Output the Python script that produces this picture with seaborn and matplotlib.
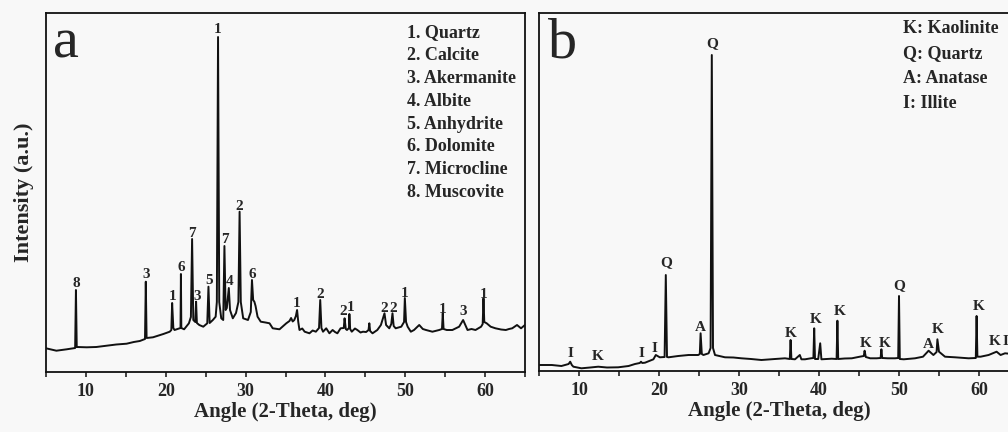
import matplotlib
matplotlib.use("Agg")
import matplotlib.pyplot as plt
import pandas as pd
import seaborn as sns

sns.set_style("ticks")
plt.rcParams["font.family"] = ["Liberation Serif", "DejaVu Serif"]
plt.rcParams["font.weight"] = "bold"

# ---- panel a: raw sample pattern (2-theta, intensity a.u.) ----
a_angle = [5.0, 6.3, 7.6, 8.6, 8.65, 8.75, 8.85, 10.1, 11.3, 12.6, 13.8, 15.1, 16.0, 16.75,
           17.4, 17.5, 17.6, 18.4, 19.1, 19.7, 20.5, 20.7, 20.8, 20.95, 21.1, 21.75, 21.85,
           21.9, 21.95, 22.3, 22.9, 23.15, 23.3, 23.45, 23.7, 23.8, 23.9, 24.2, 24.7, 25.2,
           25.35, 25.5, 25.9, 26.25, 26.4, 26.55, 26.7, 26.95, 27.2, 27.35, 27.5, 27.65, 27.9,
           28.05, 28.4, 28.8, 29.1, 29.25, 29.4, 29.7, 30.3, 30.65, 30.8, 30.95, 31.1, 31.25,
           31.5, 31.9, 32.5, 33.0, 33.4, 34.25, 35.1, 35.5, 35.7, 35.9, 36.1, 36.3, 36.45, 36.6,
           36.75, 37.1, 37.4, 38.0, 38.4, 38.8, 39.2, 39.35, 39.5, 39.7, 40.1, 40.5, 40.9, 41.2,
           41.5, 41.9, 42.3, 42.4, 42.55, 42.7, 42.95, 43.0, 43.1, 43.3, 43.7, 44.0, 44.4, 44.7,
           45.1, 45.4, 45.5, 45.6, 45.9, 46.5, 46.95, 47.4, 47.6, 48.0, 48.25, 48.4, 48.55,
           48.8, 49.5, 49.85, 49.95, 50.1, 50.3, 50.7, 51.1, 51.75, 52.2, 52.6, 53.4, 54.25,
           54.6, 54.7, 54.8, 55.2, 55.9, 56.3, 56.75, 57.25, 57.8, 58.3, 58.8, 59.5, 59.7,
           59.8, 59.9, 60.2, 60.7, 61.3, 62.0, 62.6, 63.0, 63.4, 64.0, 64.5, 65.0]
a_intensity = [23.7, 21.3, 22.7, 24.0, 24.0, 82.0, 25.0, 24.7, 25.0, 26.3, 27.5, 28.3, 30.0, 31.0,
               33.0, 90.3, 34.0, 34.7, 36.5, 38.0, 40.3, 42.0, 69.0, 44.0, 42.0, 43.7, 44.0,
               98.0, 44.0, 42.7, 48.7, 55.0, 133.0, 52.0, 50.0, 70.3, 49.0, 47.0, 45.3, 48.7,
               85.3, 49.0, 52.0, 55.3, 70.0, 335.0, 70.0, 53.7, 52.0, 126.0, 62.0, 64.0, 84.0,
               62.0, 53.7, 59.0, 70.0, 160.3, 70.0, 53.7, 52.0, 60.0, 92.0, 72.0, 70.3, 66.0,
               55.3, 50.3, 49.5, 48.7, 43.7, 42.7, 48.7, 51.0, 54.0, 50.5, 52.0, 56.0, 62.0, 50.0,
               42.0, 43.5, 40.3, 38.7, 41.5, 40.3, 44.0, 72.0, 44.0, 40.3, 43.7, 38.7, 42.0, 40.0,
               38.7, 43.7, 44.0, 53.7, 43.0, 42.0, 44.0, 58.0, 43.0, 40.3, 43.5, 42.0, 39.5, 40.3,
               40.0, 42.0, 48.7, 41.0, 38.7, 42.0, 47.0, 58.7, 47.0, 43.7, 48.0, 58.7, 46.0,
               43.7, 45.3, 50.0, 74.0, 50.0, 45.3, 40.3, 42.0, 47.0, 43.0, 42.0, 40.3, 42.0,
               43.0, 58.7, 43.0, 42.0, 42.0, 43.5, 45.3, 52.0, 42.0, 43.0, 42.0, 45.3, 48.0,
               73.7, 50.0, 48.7, 45.3, 43.7, 42.5, 42.0, 43.0, 43.7, 47.0, 43.7, 47.0]

a_label_angle = [8.75, 17.5, 20.8, 21.9, 23.3, 24.0, 25.4, 26.55, 27.4, 28.0, 29.25, 30.8,
                 36.45, 39.35, 42.2, 43.1, 47.4, 48.5, 49.95, 54.7, 57.3, 59.8]
a_label_y = [85, 94, 72, 101, 135, 72, 88, 339, 129, 87, 162, 94,
             65, 74, 57, 61, 60, 60, 75, 59, 57, 74]
a_label_text = ["8", "3", "1", "6", "7", "3", "5", "1", "7", "4", "2", "6",
                "1", "2", "2", "1", "2", "2", "1", "1", "3", "1"]
a_phases = ["1. Quartz", "2. Calcite", "3. Akermanite", "4. Albite",
            "5. Anhydrite", "6. Dolomite", "7. Microcline", "8. Muscovite"]

# ---- panel b: treated sample pattern ----
b_angle = [5.1, 6.6, 7.8, 8.7, 8.9, 9.1, 9.3, 10.3, 11.4, 12.4, 13.5, 14.9, 16.2, 17.0, 17.6,
           17.75, 17.9, 18.25, 19.3, 19.6, 20.1, 20.7, 20.85, 21.0, 21.2, 22.4, 23.7, 24.9,
           25.1, 25.2, 25.35, 25.55, 26.2, 26.45, 26.6, 26.75, 27.0, 28.25, 29.3, 30.3, 31.5,
           32.8, 34.5, 35.75, 36.35, 36.45, 36.55, 37.0, 37.6, 37.8, 38.25, 39.0, 39.3, 39.4,
           39.5, 39.9, 40.15, 40.3, 41.6, 42.2, 42.3, 42.4, 43.2, 44.1, 45.1, 45.6, 45.7,
           45.85, 46.4, 47.2, 47.7, 47.8, 47.9, 48.6, 49.5, 49.9, 50.0, 50.1, 50.6, 52.0,
           53.0, 53.7, 54.3, 54.7, 54.8, 55.0, 55.75, 57.0, 58.7, 59.6, 59.7, 59.8, 60.2,
           61.2, 62.2, 62.7, 63.25, 64.2, 65.0]
b_intensity = [7.0, 7.0, 6.0, 8.0, 10.3, 7.0, 5.3, 3.7, 4.5, 5.3, 4.5, 4.7, 6.0, 8.0, 9.0,
               10.3, 9.0, 9.3, 12.7, 17.0, 14.7, 15.0, 97.0, 15.0, 14.7, 16.0, 17.0, 17.0,
               18.0, 38.7, 18.0, 17.0, 18.7, 24.0, 317.0, 24.0, 17.0, 14.7, 14.5, 13.7, 13.0,
               12.0, 13.0, 13.7, 13.0, 32.0, 13.0, 12.7, 17.0, 12.7, 12.7, 13.7, 14.0, 43.7,
               13.0, 13.0, 28.7, 12.7, 13.3, 13.0, 51.3, 13.0, 13.5, 13.7, 15.3, 16.0, 21.3,
               15.0, 13.7, 13.7, 14.0, 22.7, 14.0, 13.7, 13.7, 14.0, 76.0, 13.0, 12.7, 13.7,
               15.3, 21.3, 17.0, 20.0, 32.7, 20.3, 15.3, 14.7, 13.7, 14.0, 56.0, 15.3, 15.3,
               17.0, 20.3, 17.0, 18.7, 18.0, 18.5]

b_label_angle = [8.9, 12.4, 17.75, 19.45, 20.85, 25.2, 26.6, 36.5, 39.6, 42.6, 45.8, 48.2,
                 50.0, 53.7, 54.9, 60.0, 62.0, 63.25]
b_label_y = [15, 12, 15, 20, 106, 41, 325, 35, 49, 57, 25, 25, 83, 24, 39, 62, 27, 27]
b_label_text = ["I", "K", "I", "I", "Q", "A", "Q", "K", "K", "K", "K", "K",
                "Q", "A", "K", "K", "K", "I"]
b_phases = ["K: Kaolinite", "Q: Quartz", "A: Anatase", "I: Illite"]

BG = "#f8f8f8"
fig = plt.figure(figsize=(10.08, 4.32), dpi=100, facecolor=BG)
ax_a = fig.add_axes([46 / 1008, 60 / 432, 479 / 1008, 359 / 432], facecolor=BG)
ax_b = fig.add_axes([539 / 1008, 61 / 432, 480 / 1008, 358 / 432], facecolor=BG)


def draw_panel(ax, angle, intensity, lab_x, lab_y, lab_t, phases, letter,
               ylim, legend_y0, legend_step, legend_x, letter_x):
    df = pd.DataFrame({"angle": angle, "intensity": intensity})
    sns.lineplot(data=df, x="angle", y="intensity", ax=ax, color="#111111",
                 linewidth=1.4, estimator=None, sort=False)
    ax.set_xlim(5, 65)
    ax.set_ylim(*ylim)
    ax.set_xticks(range(10, 61, 10))
    ax.set_xticks(range(5, 66, 10), minor=True)
    ax.set_yticks([])
    ax.tick_params(axis="x", which="both", direction="out", length=3.6, width=1.1,
                   pad=4, labelsize=13, color="#111111")
    for lbl in ax.get_xticklabels():
        lbl.set_fontweight("bold")
    for sp in ax.spines.values():
        sp.set_visible(True)
        sp.set_linewidth(1.3)
        sp.set_color("#111111")
    ax.set_xlabel("Angle (2-Theta, deg)", fontsize=15, fontweight="bold", labelpad=1.5)
    ax.set_ylabel("")

    for x, y, t in zip(lab_x, lab_y, lab_t):
        ax.text(x, y, t, ha="center", va="baseline", fontsize=11, fontweight="bold")

    for i, p in enumerate(phases):
        ax.text(legend_x, legend_y0 - i * legend_step, p, transform=ax.transAxes,
                ha="left", va="baseline", fontsize=13, fontweight="bold")

    ax.text(letter_x, 0.877, letter, transform=ax.transAxes, ha="left", va="baseline",
            fontsize=42, fontweight="normal")


draw_panel(ax_a, a_angle, a_intensity, a_label_angle, a_label_y, a_label_text, a_phases,
           "a", (0, 359), 0.932, 0.0635, 0.754, 0.014)
draw_panel(ax_b, b_angle, b_intensity, b_label_angle, b_label_y, b_label_text, b_phases,
           "b", (1, 359), 0.943, 0.0698, 0.758, 0.019)

ax_a.set_ylabel("Intensity (a.u.)", fontsize=16, fontweight="bold", labelpad=9)

fig.savefig("out.png", dpi=100, facecolor=BG)
